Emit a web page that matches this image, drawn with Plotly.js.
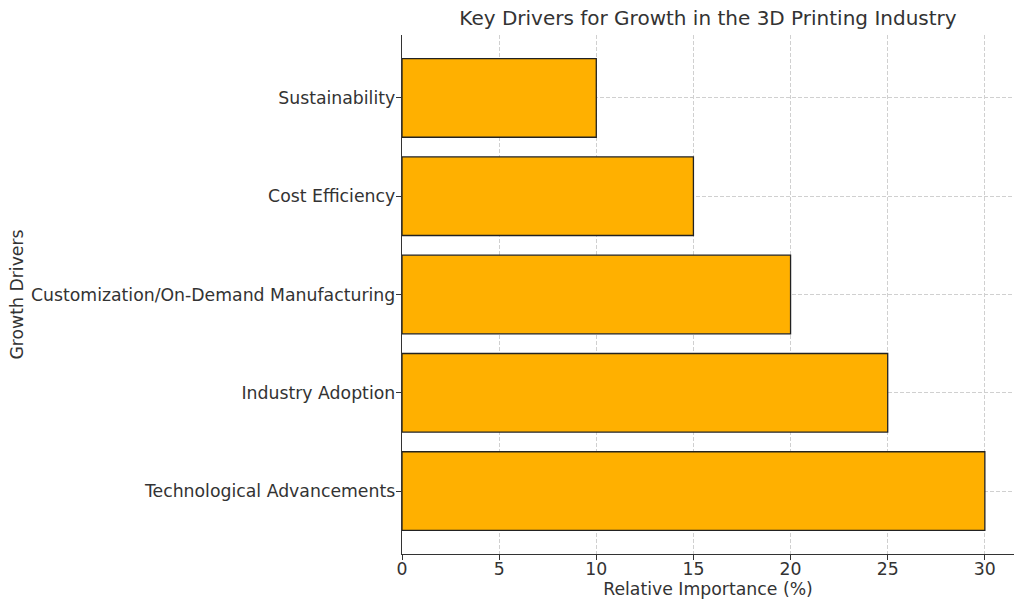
<!DOCTYPE html>
<html>
<head>
<meta charset="utf-8">
<script src="https://cdn.plot.ly/plotly-3.0.1.min.js"></script>
<style>html,body{margin:0;padding:0;background:#fff;}#chart{width:1024px;height:610px;}</style>
</head>
<body>
<div id="chart"></div>
<script>
const drivers = ["Technological Advancements", "Industry Adoption", "Customization/On-Demand Manufacturing", "Cost Efficiency", "Sustainability"];
const importance = [30, 25, 20, 15, 10];
const xTicks = [0, 5, 10, 15, 20, 25, 30];

const font = "DejaVu Sans, sans-serif";
const textColor = "#333333";
const fs = 17.3;

const trace = {
  type: "bar",
  orientation: "h",
  x: importance,
  y: drivers,
  width: 0.8,
  marker: {color: "#FFB000", line: {color: "#222222", width: 1.3}},
  hoverinfo: "x+y"
};

const layout = {
  width: 1024, height: 610,
  margin: {l: 402, r: 10, t: 35, b: 56},
  paper_bgcolor: "#ffffff", plot_bgcolor: "#ffffff",
  font: {family: font, color: textColor, size: fs},
  showlegend: false,
  title: {text: "Key Drivers for Growth in the 3D Printing Industry", font: {family: font, size: 20, color: textColor}, x: 0.5, xref: "paper", y: 1 - 18/610, yref: "container", yanchor: "middle"},
  xaxis: {
    range: [0, 31.5], tickvals: xTicks, ticktext: xTicks.map(String),
    showgrid: true, gridcolor: "#d0d0d0", griddash: "4px,2px", gridwidth: 1,
    showline: true, linecolor: "#333333", linewidth: 1.3,
    ticks: "outside", ticklen: 5, tickcolor: "#333333",
    ticklabelstandoff: -6,
    zeroline: false,
    tickfont: {family: font, size: fs, color: textColor},
    title: {text: "Relative Importance (%)", font: {family: font, size: fs, color: textColor}, standoff: 3}
  },
  yaxis: {
    type: "category", range: [-0.64, 4.64],
    showgrid: true, gridcolor: "#d0d0d0", griddash: "4px,2px", gridwidth: 1,
    showline: true, linecolor: "#333333", linewidth: 1.3,
    ticks: "outside", ticklen: 5, tickcolor: "#333333",
    ticklabelstandoff: -3,
    zeroline: false,
    tickfont: {family: font, size: fs, color: textColor},
    title: {text: "Growth Drivers", font: {family: font, size: fs, color: textColor}, standoff: 3}
  },
  bargap: 0.2
};

Plotly.newPlot("chart", [trace], layout, {displayModeBar: false, staticPlot: true});
</script>
</body>
</html>
